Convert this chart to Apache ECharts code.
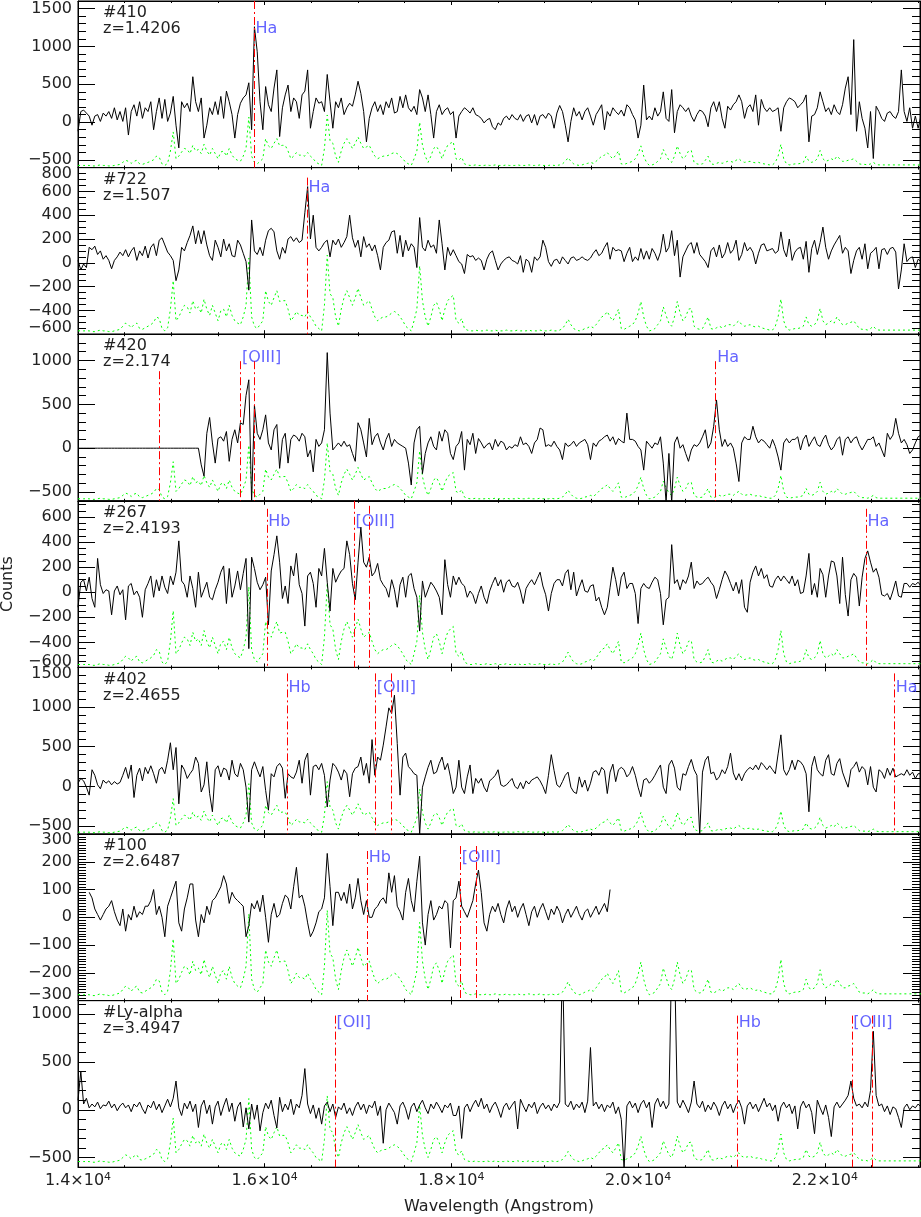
<!DOCTYPE html>
<html>
<head>
<meta charset="utf-8">
<script src="https://cdn.jsdelivr.net/npm/echarts@6.0.0/dist/echarts.min.js"></script>
<style>
  html, body { margin: 0; padding: 0; background: #fff; }
  #chart { width: 921px; height: 1217px; }
</style>
</head>
<body>
<div id="chart"></div>
<script>
// wavelength grid of the spectra (Angstrom)
const waveStart = 14000;
const waveStep = 30;
const waveMin = 14000;
const waveMax = 23020;
const xTickLabels = ['1.4', '1.6', '1.8', '2.0', '2.2'];

// sky spectrum (relative strength 0..1), same in every panel
const sky = [
  0.02,0.02,0.02,0.02,0.02,0.01,0.01,0.02,0.03,0.02,
  0.02,0.01,0.01,0.02,0.03,0.04,0.08,0.12,0.10,0.06,
  0.10,0.12,0.05,0.04,0.06,0.08,0.10,0.13,0.20,0.18,
  0.05,0.02,0.06,0.30,0.67,0.15,0.20,0.28,0.35,0.33,
  0.25,0.41,0.30,0.33,0.25,0.43,0.30,0.22,0.35,0.25,
  0.15,0.28,0.30,0.20,0.35,0.22,0.15,0.12,0.10,0.20,
  0.35,0.96,0.20,0.08,0.05,0.10,0.15,0.54,0.40,0.35,
  0.45,0.54,0.40,0.41,0.41,0.30,0.15,0.20,0.27,0.22,
  0.22,0.20,0.27,0.20,0.15,0.08,0.05,0.02,0.35,1.00,
  0.50,0.45,0.20,0.08,0.30,0.45,0.54,0.45,0.35,0.45,
  0.57,0.45,0.35,0.38,0.41,0.30,0.20,0.15,0.18,0.20,
  0.20,0.22,0.25,0.27,0.25,0.20,0.15,0.08,0.05,0.02,
  0.15,0.30,0.86,0.41,0.20,0.08,0.20,0.35,0.39,0.30,
  0.15,0.30,0.41,0.45,0.48,0.15,0.12,0.18,0.05,0.03,
  0.02,0.02,0.03,0.02,0.02,0.02,0.03,0.02,0.02,0.03,
  0.02,0.02,0.02,0.03,0.02,0.02,0.02,0.03,0.02,0.02,
  0.02,0.03,0.02,0.02,0.02,0.03,0.02,0.02,0.02,0.03,
  0.02,0.02,0.03,0.05,0.10,0.17,0.10,0.05,0.03,0.02,
  0.03,0.05,0.06,0.08,0.06,0.10,0.15,0.20,0.22,0.27,
  0.20,0.15,0.22,0.30,0.05,0.04,0.06,0.08,0.10,0.15,
  0.25,0.40,0.20,0.08,0.02,0.03,0.05,0.10,0.15,0.33,
  0.22,0.12,0.08,0.20,0.40,0.25,0.15,0.20,0.30,0.31,
  0.08,0.05,0.04,0.05,0.12,0.20,0.05,0.04,0.06,0.08,
  0.06,0.08,0.10,0.10,0.08,0.12,0.15,0.10,0.08,0.09,
  0.10,0.08,0.07,0.08,0.06,0.05,0.04,0.03,0.03,0.08,
  0.20,0.43,0.15,0.05,0.03,0.04,0.05,0.05,0.06,0.08,
  0.20,0.10,0.08,0.10,0.15,0.31,0.15,0.10,0.12,0.15,
  0.12,0.20,0.15,0.10,0.10,0.12,0.13,0.15,0.10,0.05,
  0.04,0.04,0.03,0.05,0.08,0.04,0.03,0.03,0.03,0.03,
  0.03,0.03,0.03,0.03,0.03,0.03,0.03,0.03,0.03,0.03,
  0.03,0.03
];

const flux410 = [
  -120,140,160,120,80,-40,80,100,10,120,
  80,140,50,190,30,140,10,190,-170,140,
  230,80,270,50,190,140,270,-100,140,320,
  50,300,10,120,340,-40,-340,270,190,250,
  140,600,270,140,320,-210,-40,190,100,270,
  100,340,50,410,270,100,-210,100,250,320,
  360,520,-100,1260,930,270,-100,470,230,140,
  450,690,-190,190,360,490,140,320,270,50,
  360,410,690,-80,140,320,250,270,140,630,
  270,-80,270,190,320,100,190,250,210,360,
  540,380,140,-260,50,190,270,140,230,100,
  270,190,320,120,140,340,190,360,190,140,
  210,100,430,320,140,360,100,-210,140,230,
  100,160,190,100,140,-210,80,140,190,160,
  120,190,100,80,50,-10,30,50,-60,-100,
  -10,-40,50,80,30,100,50,30,100,10,
  80,100,-10,100,-40,80,100,50,120,80,
  -80,120,220,140,-40,-260,10,190,80,140,
  30,140,190,80,-40,100,160,230,-100,140,
  80,190,140,100,160,80,230,190,100,30,
  -210,-40,490,30,80,30,190,80,140,400,
  50,10,430,-140,140,230,190,140,190,80,
  10,100,160,140,80,-60,190,270,140,270,
  50,-80,210,160,230,270,360,270,50,190,
  230,140,360,-40,300,190,140,190,140,160,
  190,-120,190,270,320,300,270,190,230,270,
  360,-260,80,100,190,400,270,140,190,100,
  230,140,100,230,450,600,100,1090,-120,270,
  50,-80,-340,140,-480,210,140,50,10,120,
  140,80,50,140,690,140,10,190,-80,80,
  -80,80
];

const flux722 = [
  20,-60,-10,-40,130,110,140,70,100,30,
  60,20,-50,20,50,90,60,110,50,100,
  130,20,100,60,140,40,130,160,60,190,
  210,150,90,60,20,-150,-60,130,100,170,
  230,310,160,270,160,270,150,60,20,190,
  130,50,200,100,160,60,50,190,150,80,
  10,-230,360,100,70,130,60,190,270,290,
  260,100,30,130,80,200,220,180,210,170,
  190,420,640,200,400,130,100,130,170,190,
  50,190,150,200,130,170,220,400,210,130,
  190,50,220,130,160,100,150,60,-60,130,
  170,190,260,270,80,230,50,190,100,160,
  130,-40,380,130,100,190,130,150,80,360,
  160,-60,130,60,110,60,10,-10,-90,70,
  50,60,20,40,20,-60,30,80,100,20,
  -60,-10,20,40,50,20,10,-10,60,-80,
  30,10,-80,50,20,50,190,130,10,-30,
  20,30,-10,50,20,-10,40,50,20,30,
  50,30,20,40,80,110,60,80,130,170,
  30,130,100,110,100,10,80,130,10,50,
  20,120,30,100,30,120,80,20,90,240,
  90,130,270,60,190,-120,50,100,150,170,
  80,170,70,40,10,-40,100,130,50,150,
  40,80,170,80,110,190,20,70,170,100,
  130,90,-10,80,150,160,100,110,120,80,
  100,260,110,50,200,20,90,120,130,30,
  180,-80,120,190,70,170,300,130,30,100,
  150,190,230,80,130,100,-90,20,100,130,
  30,160,-50,80,100,130,-50,110,120,70,
  120,130,90,-220,-60,160,10,40,50,-40,
  30,10
];

const flux420 = [
  0,0,0,0,0,0,0,0,0,0,
  0,0,0,0,0,0,0,0,0,0,
  0,0,0,0,0,0,0,0,0,0,
  0,0,0,0,0,0,0,0,0,0,
  0,0,0,0,-190,-320,170,350,60,-170,
  110,130,80,190,-150,100,210,60,290,270,
  600,780,-620,490,170,100,210,380,60,-20,
  210,270,-230,100,170,-170,100,150,130,80,
  170,130,-100,-20,-270,100,20,60,210,1090,
  400,-20,20,60,20,80,20,40,-60,-150,
  290,210,60,-100,340,40,130,170,60,-20,
  100,170,20,100,60,40,20,0,-170,-420,
  60,210,250,-290,-60,60,130,20,-20,190,
  80,210,170,-60,-130,20,60,190,-250,100,
  40,170,-60,110,60,0,40,60,-20,100,
  20,80,60,-20,20,0,40,20,130,40,
  60,20,-60,60,100,230,210,20,40,20,
  80,20,-20,-130,60,20,40,80,20,60,
  80,100,40,-130,60,20,80,100,130,150,
  80,130,40,110,80,60,400,100,100,80,
  20,-20,-250,80,40,0,60,40,130,-170,
  -620,-60,-620,60,130,0,40,-60,-150,-20,
  40,20,60,130,210,0,60,250,550,210,
  20,100,20,60,0,-170,-380,60,130,100,
  100,250,130,60,100,80,40,0,100,20,
  -100,-250,60,110,60,100,100,130,-20,100,
  150,20,80,130,40,20,100,150,40,-20,
  20,100,130,-80,100,130,60,110,130,40,
  -20,40,100,100,130,20,60,-20,-100,170,
  100,150,340,170,60,100,40,-60,-20,60,
  130,150
];

const flux267 = [
  -120,80,100,10,120,-50,-120,270,60,-10,
  20,10,-180,10,50,-20,20,-220,50,70,
  -20,10,-40,-200,20,70,130,-40,100,10,
  130,40,-10,130,60,160,410,90,60,-40,
  130,30,-120,160,-40,20,80,-40,-60,20,
  80,160,210,-90,190,-40,50,170,20,150,
  270,-450,280,190,80,20,60,120,-260,170,
  300,450,240,-50,50,-90,210,130,310,60,
  -10,-270,130,160,70,-120,190,130,350,80,
  -150,190,80,130,170,190,410,300,70,-60,
  240,520,240,200,280,130,160,230,100,60,
  30,-40,100,20,-120,60,120,-40,130,150,
  30,-40,-310,90,-40,20,80,50,10,-40,
  -180,260,60,-40,130,60,120,70,50,-40,
  10,-20,-90,-10,50,-40,-90,10,70,120,
  50,100,0,80,100,50,40,80,10,-90,
  30,70,100,60,110,160,50,-20,-150,-10,
  70,100,100,50,150,180,20,160,-30,40,
  100,10,0,50,60,-70,-40,-120,-180,-120,
  40,200,100,-30,120,160,30,70,70,-10,
  -250,30,70,40,30,80,120,100,-10,-260,
  -60,-40,380,70,100,20,100,70,130,240,
  30,90,60,70,100,120,80,50,-50,20,
  100,170,130,70,10,80,-10,100,-120,-160,
  80,160,210,130,190,110,140,50,40,100,
  130,90,130,100,70,130,50,100,-10,0,
  130,310,-20,70,-40,190,140,-40,130,250,
  240,130,-90,280,-20,-190,100,150,120,-110,
  120,270,330,240,160,190,120,-20,-30,-10,
  -60,10,90,-30,-40,70,70,40,70,60,
  80,50
];

const flux402 = [
  40,100,70,-10,-110,210,140,20,-30,80,
  40,70,20,60,30,50,140,240,100,270,
  -140,140,230,70,240,160,260,160,40,210,
  240,160,330,550,210,490,-220,270,210,100,
  160,210,370,290,-70,20,310,-90,-320,210,
  260,120,230,210,80,330,160,120,290,210,
  -10,-450,210,310,210,120,250,-50,-300,160,
  120,250,290,230,-150,160,120,100,180,330,
  40,330,420,-110,250,270,210,290,140,-260,
  80,290,250,180,80,210,160,-130,160,230,
  250,370,140,290,40,590,140,370,330,520,
  750,990,920,1150,540,-110,370,420,250,210,
  160,140,-600,-10,120,240,330,160,180,290,
  370,210,290,120,-90,-10,330,-10,-90,120,
  270,-90,100,40,100,-10,-70,70,100,140,
  210,20,0,20,60,100,0,-30,50,-30,
  70,30,80,100,120,70,0,-90,140,400,
  200,20,-10,60,140,180,-10,-70,-90,120,
  -10,80,-60,40,180,200,140,240,200,-90,
  180,280,60,210,240,210,120,160,250,140,
  -10,-130,80,100,40,80,140,210,270,-10,
  -90,270,330,230,-10,-50,160,140,250,340,
  210,140,-600,180,330,380,160,180,80,120,
  210,160,250,420,170,80,160,70,160,210,
  240,210,270,210,300,260,210,260,210,160,
  410,650,210,140,210,330,210,330,310,260,
  160,-320,250,380,210,160,130,330,400,160,
  140,290,350,180,80,-10,210,250,310,180,
  250,210,20,250,-10,-70,210,180,100,230,
  140,230,120,140,160,140,210,140,180,100,
  160,160
];

const flux100 = [
  null,null,null,null,90,70,30,10,-10,10,
  30,40,60,20,-10,-30,30,-50,10,-10,
  40,0,20,10,40,40,60,100,10,40,
  0,-70,40,70,100,130,-20,-50,30,70,
  120,120,-10,-70,10,-20,40,10,60,70,
  90,110,150,120,50,90,70,60,50,40,
  -70,-30,50,30,60,20,80,0,-90,10,
  50,0,10,50,80,70,30,110,180,70,
  80,40,-20,-70,-50,-20,20,30,70,230,
  110,-30,90,90,60,90,50,120,30,70,
  140,60,10,60,0,0,30,40,60,70,
  50,160,90,150,40,20,-10,90,140,60,
  20,130,220,-20,-100,10,60,-10,10,40,
  30,60,50,-110,60,70,130,40,20,0,
  30,60,120,170,90,-20,-50,10,40,20,
  50,10,-20,30,60,20,40,0,30,50,
  10,-30,20,40,0,30,50,20,-10,30,
  10,40,20,-20,10,30,0,20,40,10,
  -10,20,30,0,20,40,10,30,50,20,
  100
];

const fluxLya = [
  100,400,60,120,20,60,30,80,10,50,
  40,90,20,60,-10,40,70,20,50,-20,
  60,30,80,10,-40,50,20,90,0,60,
  -30,40,110,30,120,300,20,-60,70,10,
  90,-20,60,-185,40,100,-40,50,-150,30,
  90,-60,40,120,-20,70,-120,30,80,-180,
  20,-200,60,-100,50,-220,-30,70,10,100,
  -60,-190,130,-20,60,0,110,-50,60,20,
  150,430,60,-40,50,-90,20,-150,40,80,
  -20,60,-80,30,0,70,-40,20,-60,30,
  80,0,60,-40,50,20,90,-60,40,-350,
  0,70,20,-30,-150,40,80,10,-100,30,
  70,-20,50,100,20,-40,60,10,80,30,
  -30,50,20,70,-60,-60,40,-300,20,60,
  -20,50,100,30,120,10,60,-30,40,80,
  10,-80,30,70,0,50,90,-200,110,40,
  -20,60,20,80,-40,30,70,10,50,-10,
  60,20,80,1600,60,30,90,0,60,20,
  80,-30,90,650,40,80,10,60,-20,50,
  20,80,-40,30,-100,-620,40,90,20,70,
  -30,60,100,20,80,-185,60,120,30,90,
  10,60,1600,1600,80,20,100,40,-30,80,
  300,60,20,90,-20,50,0,80,30,-60,
  40,90,10,60,-30,50,100,20,-150,40,
  80,10,60,-20,50,120,30,70,-10,50,
  -120,30,80,20,60,-40,40,-200,30,90,
  20,60,-30,-250,100,20,-50,50,-80,-280,
  30,80,20,60,100,150,300,120,40,60,
  20,80,30,200,820,150,40,60,-20,40,
  -50,30,10,-80,-185,20,60,0,40,20,
  60,30
];

// observed wavelengths of the marked lines, and their labels
const lines410 = [15886];
const labels410 = [[15886, 'Ha']];
const lines722 = [16453];
const labels722 = [[16453, 'Ha']];
const lines420 = [14873, 15740, 15892, 20831];
const labels420 = [[15740, '[OIII]'], [20831, 'Ha']];
const lines267 = [16023, 16956, 17120, 22441];
const labels267 = [[16023, 'Hb'], [16956, '[OIII]'], [22441, 'Ha']];
const lines402 = [16239, 17185, 17352, 22744];
const labels402 = [[16239, 'Hb'], [17185, '[OIII]'], [22744, 'Ha']];
const lines100 = [17098, 18094, 18269];
const labels100 = [[17098, 'Hb'], [18094, '[OIII]']];
const linesLya = [16752, 21062, 22289, 22505];
const labelsLya = [[16752, '[OII]'], [21062, 'Hb'], [22289, '[OIII]']];

const FONT = "'DejaVu Sans', sans-serif";
const PANEL_H = 166.6;
const GRID_LEFT = 78;
const GRID_W = 842;

// per panel: data, axis range and drawing layout (line tops / label offsets in px from panel top)
const panels = [
  { tag: '#410', z: 'z=1.4206', flux: flux410, yMin: -600, yMax: 1600, major: 500, minor: 5,
    lines: lines410, labels: labels410, lineTop: [0], labelOff: 28, skyBase: -585, skyAmp: 680 },
  { tag: '#722', z: 'z=1.507', flux: flux722, yMin: -600, yMax: 800, major: 200, minor: 4,
    lines: lines722, labels: labels722, lineTop: [10], labelOff: 20, skyBase: -585, skyAmp: 650 },
  { tag: '#420', z: 'z=2.174', flux: flux420, yMin: -600, yMax: 1300, major: 500, minor: 5,
    lines: lines420, labels: labels420, lineTop: [37, 27, 27, 27], labelOff: 24, skyBase: -590, skyAmp: 650 },
  { tag: '#267', z: 'z=2.4193', flux: flux267, yMin: -600, yMax: 730, major: 200, minor: 4,
    lines: lines267, labels: labels267, lineTop: [8, 0, 5, 8], labelOff: 21, skyBase: -590, skyAmp: 660 },
  { tag: '#402', z: 'z=2.4655', flux: flux402, yMin: -600, yMax: 1500, major: 500, minor: 5,
    lines: lines402, labels: labels402, lineTop: [6, 6, 6, 6], labelOff: 20, skyBase: -590, skyAmp: 650 },
  { tag: '#100', z: 'z=2.6487', flux: flux100, yMin: -300, yMax: 300, major: 100, minor: 10,
    lines: lines100, labels: labels100, lineTop: [17, 12, 12], labelOff: 24, skyBase: -285, skyAmp: 310 },
  { tag: '#Ly-alpha', z: 'z=3.4947', flux: fluxLya, yMin: -600, yMax: 1140, major: 500, minor: 5,
    lines: linesLya, labels: labelsLya, lineTop: [15, 15, 15, 15], labelOff: 22, skyBase: -555, skyAmp: 700 }
];

const waveOf = i => waveStart + waveStep * i;
const valAt = (p, off) => p.yMax - off / PANEL_H * (p.yMax - p.yMin);

function xAxisFor(k, pos, withLabels) {
  const ax = {
    type: 'value', gridIndex: k, position: pos, min: waveMin, max: waveMax, interval: 2000,
    axisLine: { show: true, onZero: false, lineStyle: { color: '#000', width: 1 } },
    axisTick: { show: true, inside: true, length: 4, lineStyle: { color: '#000' } },
    minorTick: { show: true, splitNumber: 4, length: 2, lineStyle: { color: '#000' } },
    splitLine: { show: false },
    minorSplitLine: { show: false },
    axisLabel: { show: false }
  };
  if (withLabels) {
    ax.axisLabel = {
      show: true, margin: 4, showMaxLabel: false, hideOverlap: false,
      formatter: v => '{m|' + xTickLabels[(v - waveMin) / 2000] + '\u00d710}{s|4}',
      rich: {
        m: { fontSize: 16, fontFamily: FONT, color: '#222', lineHeight: 20 },
        s: { fontSize: 11, fontFamily: FONT, color: '#222', lineHeight: 12, verticalAlign: 'top' }
      }
    };
    ax.name = 'Wavelength (Angstrom)';
    ax.nameLocation = 'middle';
    ax.nameGap = 32;
    ax.nameTextStyle = { fontSize: 16, fontFamily: FONT, color: '#222' };
  }
  return ax;
}

function yAxisFor(p, k, pos, withLabels) {
  const ax = {
    type: 'value', gridIndex: k, position: pos, min: p.yMin, max: p.yMax,
    splitNumber: Math.round((p.yMax - p.yMin) / p.major),
    minInterval: p.major, maxInterval: p.major,
    axisLine: { show: true, onZero: false, lineStyle: { color: '#000', width: 1 } },
    axisTick: { show: true, inside: true, length: 17, lineStyle: { color: '#000' } },
    minorTick: { show: true, splitNumber: p.minor, length: 8, lineStyle: { color: '#000' } },
    splitLine: { show: false },
    minorSplitLine: { show: false },
    axisLabel: { show: false }
  };
  if (withLabels) {
    ax.axisLabel = {
      show: true, margin: 6, fontSize: 16, lineHeight: 12, fontFamily: FONT, color: '#222',
      hideOverlap: false,
      showMinLabel: p.yMin % p.major === 0,
      showMaxLabel: p.yMax % p.major === 0,
      verticalAlignMinLabel: 'bottom',
      verticalAlignMaxLabel: 'top',
      formatter: v => String(v).replace('-', '\u2212')
    };
  }
  return ax;
}

const option = {
  animation: false,
  backgroundColor: '#fff',
  textStyle: { fontFamily: FONT },
  title: [],
  grid: [],
  xAxis: [],
  yAxis: [],
  series: []
};

panels.forEach((p, k) => {
  const top = 1 + k * PANEL_H;
  const last = k === panels.length - 1;

  option.grid.push({
    left: GRID_LEFT, top: top, width: GRID_W, height: PANEL_H,
    show: true, borderColor: '#000', borderWidth: 1, containLabel: false, outerBoundsMode: 'none'
  });

  option.title.push({
    text: p.tag + '\n' + p.z, left: 103, top: top + 4, padding: 0,
    textStyle: { fontSize: 16, fontWeight: 'normal', color: '#222', fontFamily: FONT, lineHeight: 16 }
  });

  option.xAxis.push(xAxisFor(k, 'bottom', last));
  option.xAxis.push(xAxisFor(k, 'top', false));

  const left = yAxisFor(p, k, 'left', true);
  if (k === 3) {
    left.name = 'Counts';
    left.nameLocation = 'middle';
    left.nameGap = 62;
    left.nameTextStyle = { fontSize: 16, fontFamily: FONT, color: '#222' };
  }
  option.yAxis.push(left);
  option.yAxis.push(yAxisFor(p, k, 'right', false));

  // sky spectrum (green dotted)
  option.series.push({
    type: 'line', xAxisIndex: 2 * k, yAxisIndex: 2 * k, symbol: 'none', silent: true, z: 2,
    data: sky.map((s, i) => [waveOf(i), p.skyBase + p.skyAmp * s]),
    lineStyle: { color: '#00ff00', width: 1, type: [2, 3] }
  });

  // object spectrum with the line markers
  option.series.push({
    type: 'line', xAxisIndex: 2 * k, yAxisIndex: 2 * k, symbol: 'none', silent: true, z: 3,
    data: p.flux.map((v, i) => [waveOf(i), v]).filter(d => d[1] !== null),
    lineStyle: { color: '#000', width: 1 },
    markLine: {
      silent: true, symbol: ['none', 'none'], animation: false,
      label: { show: false },
      lineStyle: { color: '#ff0000', width: 1, type: [8, 3, 2, 3] },
      data: p.lines.map((w, j) => [
        { coord: [w, valAt(p, p.lineTop[j])] },
        { coord: [w, p.yMin] }
      ])
    }
  });

  // line names
  option.series.push({
    type: 'scatter', xAxisIndex: 2 * k, yAxisIndex: 2 * k, silent: true, z: 4,
    symbolSize: 1, itemStyle: { color: 'rgba(0,0,0,0)' },
    data: p.labels.map(l => ({ value: [l[0], valAt(p, p.labelOff)], name: l[1] })),
    label: {
      show: true, position: 'right', distance: 1, formatter: '{b}',
      color: '#3c3cff', fontSize: 16, fontFamily: FONT
    }
  });
});

const chart = echarts.init(document.getElementById('chart'), null, { renderer: 'canvas' });
chart.setOption(option);
</script>
</body>
</html>
